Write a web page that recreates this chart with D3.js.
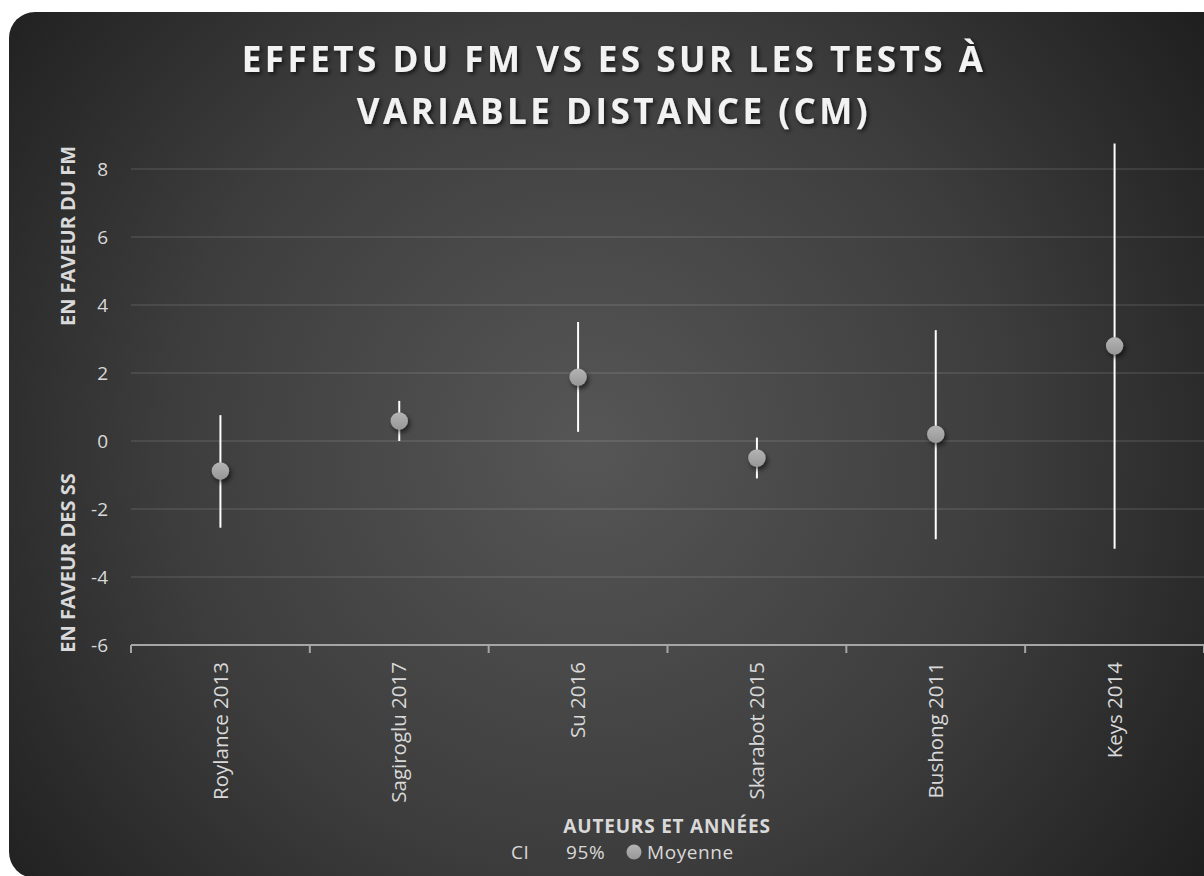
<html>
<head>
<meta charset="UTF-8">
<title>Effets du FM vs ES</title>
<script src="https://d3js.org/d3.v7.min.js"></script>
<style>
  body { margin: 0; background: #ffffff; overflow: hidden; }
  svg text { font-family: "Open Sans", "DejaVu Sans", sans-serif; }
</style>
</head>
<body>
<script>
// donnees
var auteurs = ["Roylance 2013", "Sagiroglu 2017", "Su 2016", "Skarabot 2015", "Bushong 2011", "Keys 2014"];
var moyennes = [-0.88, 0.59, 1.88, -0.5, 0.2, 2.8];
var ciBas = [-2.55, 0.0, 0.27, -1.1, -2.89, -3.17];
var ciHaut = [0.76, 1.18, 3.5, 0.1, 3.26, 8.75];
var yTicks = [-6, -4, -2, 0, 2, 4, 6, 8];

var titre = ["EFFETS DU FM VS ES SUR LES TESTS À", "VARIABLE DISTANCE (CM)"];

var width = 1204, height = 876;
var svg = d3.select("body").append("svg")
  .attr("width", width)
  .attr("height", height);

var defs = svg.append("defs");

var fond = defs.append("radialGradient")
  .attr("id", "fond")
  .attr("gradientUnits", "userSpaceOnUse")
  .attr("cx", 590).attr("cy", 445).attr("r", 760);
fond.append("stop").attr("offset", "0").attr("stop-color", "#565656");
fond.append("stop").attr("offset", "0.55").attr("stop-color", "#3d3d3d");
fond.append("stop").attr("offset", "1").attr("stop-color", "#1e1e1e");

var bille = defs.append("linearGradient")
  .attr("id", "bille").attr("x1", 0).attr("y1", 0).attr("x2", 0).attr("y2", 1);
bille.append("stop").attr("offset", "0").attr("stop-color", "#b4b4b4");
bille.append("stop").attr("offset", "1").attr("stop-color", "#979797");

var ombre = defs.append("filter").attr("id", "ombre")
  .attr("x", "-50%").attr("y", "-50%").attr("width", "200%").attr("height", "200%");
ombre.append("feDropShadow")
  .attr("dx", 2).attr("dy", 3).attr("stdDeviation", 2.5)
  .attr("flood-color", "#000").attr("flood-opacity", 0.6);

var ombreTexte = defs.append("filter").attr("id", "ombreTexte")
  .attr("x", "-10%").attr("y", "-30%").attr("width", "120%").attr("height", "160%");
ombreTexte.append("feDropShadow")
  .attr("dx", 2).attr("dy", 2).attr("stdDeviation", 2)
  .attr("flood-color", "#000").attr("flood-opacity", 0.7);

// fond arrondi
svg.append("rect")
  .attr("x", 9).attr("y", 12)
  .attr("width", 1240).attr("height", 866)
  .attr("rx", 26)
  .attr("fill", "url(#fond)");

var x = d3.scaleBand().domain(auteurs).range([131, 1204]);
var y = d3.scaleLinear().domain([-6, 8]).range([645, 169]);

// quadrillage
svg.append("g").selectAll("line")
  .data(yTicks.filter(function(t) { return t > -6; }))
  .enter().append("line")
  .attr("x1", 131).attr("x2", 1204)
  .attr("y1", function(d) { return y(d); })
  .attr("y2", function(d) { return y(d); })
  .attr("stroke", "#ffffff").attr("stroke-opacity", 0.12)
  .attr("stroke-width", 1.5);

// axe y (etiquettes seulement)
var axeY = svg.append("g")
  .attr("transform", "translate(131,0)")
  .call(d3.axisLeft(y).tickValues(yTicks).tickSize(0).tickPadding(23)
    .tickFormat(function(d) { return String(d); }));
axeY.select(".domain").remove();
axeY.selectAll("text")
  .attr("fill", "#d9d9d9")
  .style("font-size", "19px");

// axe x
var axeX = svg.append("g")
  .attr("transform", "translate(0,645)")
  .call(d3.axisBottom(x).tickSize(0));
axeX.select(".domain").remove();
axeX.selectAll("text")
  .attr("fill", "#d9d9d9")
  .style("font-size", "20.5px")
  .attr("transform", "rotate(-90)")
  .attr("x", -17).attr("y", 0).attr("dy", "0.35em")
  .style("text-anchor", "end");

var bornes = auteurs.map(function(d) { return x(d); }).concat([x.range()[1]]);
svg.append("line")
  .attr("x1", 131).attr("x2", 1204)
  .attr("y1", 645).attr("y2", 645)
  .attr("stroke", "#a6a6a6").attr("stroke-width", 2);
svg.append("g").selectAll("line")
  .data(bornes)
  .enter().append("line")
  .attr("x1", function(d) { return d; }).attr("x2", function(d) { return d; })
  .attr("y1", 645).attr("y2", 653)
  .attr("stroke", "#a6a6a6").attr("stroke-width", 2);

// barres d'erreur IC 95%
svg.append("g").selectAll("line")
  .data(auteurs)
  .enter().append("line")
  .attr("x1", function(d) { return x(d) + x.bandwidth() / 2; })
  .attr("x2", function(d) { return x(d) + x.bandwidth() / 2; })
  .attr("y1", function(d, i) { return y(ciBas[i]); })
  .attr("y2", function(d, i) { return y(ciHaut[i]); })
  .attr("stroke", "#ffffff").attr("stroke-width", 2);

// moyennes
svg.append("g").selectAll("circle")
  .data(auteurs)
  .enter().append("circle")
  .attr("cx", function(d) { return x(d) + x.bandwidth() / 2; })
  .attr("cy", function(d, i) { return y(moyennes[i]); })
  .attr("r", 8.7)
  .attr("fill", "url(#bille)")
  .attr("filter", "url(#ombre)");

// titre
svg.append("g").selectAll("text")
  .data(titre)
  .enter().append("text")
  .attr("x", 614)
  .attr("y", function(d, i) { return 72 + i * 52; })
  .attr("text-anchor", "middle")
  .attr("fill", "#f2f2f2")
  .style("font-size", "35px")
  .style("font-weight", "bold")
  .style("letter-spacing", "3.5px")
  .attr("filter", "url(#ombreTexte)")
  .text(function(d) { return d; });

// titres de l'axe y
var titresY = [
  { texte: "EN FAVEUR DU FM", centre: 236 },
  { texte: "EN FAVEUR DES SS", centre: 563 }
];
svg.append("g").selectAll("text")
  .data(titresY)
  .enter().append("text")
  .attr("transform", function(d) { return "translate(75," + d.centre + ") rotate(-90)"; })
  .attr("text-anchor", "middle")
  .attr("fill", "#d9d9d9")
  .style("font-size", "20px")
  .style("font-weight", "bold")
  .text(function(d) { return d.texte; });

// titre de l'axe x
svg.append("text")
  .attr("x", 667).attr("y", 833)
  .attr("text-anchor", "middle")
  .attr("fill", "#d9d9d9")
  .style("font-size", "19px")
  .style("font-weight", "bold")
  .style("letter-spacing", "0.8px")
  .text("AUTEURS ET ANNÉES");

// legende
var legende = svg.append("g").attr("fill", "#d9d9d9")
  .style("font-size", "19px").style("letter-spacing", "0.6px");
legende.append("text").attr("x", 511).attr("y", 859).text("CI");
legende.append("text").attr("x", 566).attr("y", 859).text("95%");
legende.append("circle").attr("cx", 634).attr("cy", 852).attr("r", 7.5).attr("fill", "url(#bille)");
legende.append("text").attr("x", 647).attr("y", 859).text("Moyenne");
</script>
</body>
</html>
